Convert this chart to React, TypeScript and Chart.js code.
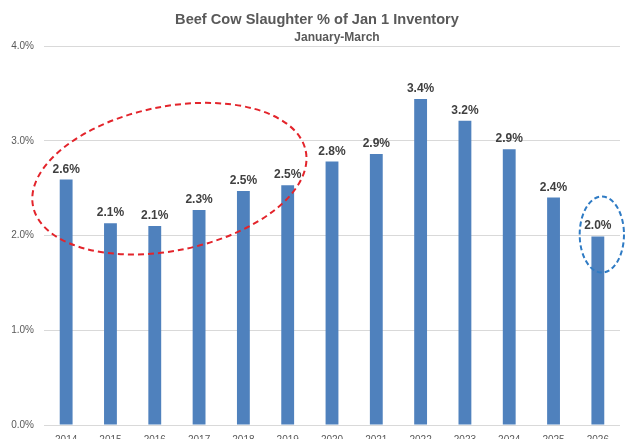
import React, { useEffect, useRef } from "react";
import { Chart, registerables } from "chart.js";

Chart.register(...registerables);

const TITLE = "Beef Cow Slaughter % of Jan 1 Inventory";
const SUBTITLE = "January-March";
const years = ["2014","2015","2016","2017","2018","2019","2020","2021","2022","2023","2024","2025","2026"];
const values = [2.59, 2.13, 2.1, 2.27, 2.47, 2.53, 2.78, 2.86, 3.44, 3.21, 2.91, 2.4, 1.99];
const labelTexts = ["2.6%","2.1%","2.1%","2.3%","2.5%","2.5%","2.8%","2.9%","3.4%","3.2%","2.9%","2.4%","2.0%"];
const yTicks = [0, 1, 2, 3, 4];

const FONT = "'Liberation Sans', Arial, sans-serif";

const overlayPlugin = {
  id: "overlay",
  afterDatasetsDraw(chart: any) {
    const ctx = chart.ctx;
    const xs = chart.scales.x;
    const ys = chart.scales.y;
    const meta = chart.getDatasetMeta(0);
    ctx.save();
    // data labels
    ctx.font = `bold 12px ${FONT}`;
    ctx.fillStyle = "#404040";
    ctx.textAlign = "center";
    ctx.textBaseline = "alphabetic";
    meta.data.forEach((bar: any, i: number) => {
      ctx.fillText(labelTexts[i], bar.x, bar.y - 7);
    });
    // red ellipse
    const catW = xs.getPixelForValue(1) - xs.getPixelForValue(0);
    ctx.lineWidth = 2;
    ctx.setLineDash([6, 4]);
    ctx.strokeStyle = "#e3242b";
    ctx.beginPath();
    ctx.ellipse(xs.getPixelForValue(2.33), ys.getPixelForValue(2.6), catW * 3.14, 72, -0.2, 0, Math.PI * 2);
    ctx.stroke();
    // blue ellipse
    ctx.setLineDash([5, 3]);
    ctx.strokeStyle = "#2f7bc4";
    ctx.beginPath();
    ctx.ellipse(xs.getPixelForValue(12.09), ys.getPixelForValue(2.01), catW * 0.5, 38, 0, 0, Math.PI * 2);
    ctx.stroke();
    ctx.restore();
  },
  afterDraw(chart: any) {
    const ctx = chart.ctx;
    ctx.save();
    ctx.fillStyle = "#595959";
    ctx.textAlign = "center";
    ctx.textBaseline = "alphabetic";
    ctx.font = `bold 14.6px ${FONT}`;
    ctx.fillText(TITLE, 317, 24);
    ctx.font = `bold 12px ${FONT}`;
    ctx.fillText(SUBTITLE, 337, 41);
    ctx.restore();
  },
};

export default function App() {
  const ref = useRef<HTMLCanvasElement>(null);
  useEffect(() => {
    document.body.style.margin = "0";
    const chart = new Chart(ref.current!, {
      type: "bar",
      data: {
        labels: years,
        datasets: [
          {
            data: values,
            backgroundColor: "#4f81bd",
            borderWidth: 0,
            barPercentage: 0.29,
            categoryPercentage: 1,
          },
        ],
      },
      options: {
        animation: false,
        responsive: false,
        maintainAspectRatio: false,
        layout: { padding: { top: 46, right: 7, left: 0, bottom: 0 } },
        plugins: { legend: { display: false }, tooltip: { enabled: false }, title: { display: false } },
        scales: {
          x: {
            grid: { display: false, drawTicks: false },
            border: { display: false },
            ticks: { color: "#595959", font: { family: FONT, size: 10 }, padding: 9, maxRotation: 0 },
            afterFit(scale: any) { scale.height = 14; },
          },
          y: {
            min: 0,
            max: 4,
            afterBuildTicks(scale: any) { scale.ticks = yTicks.map((v) => ({ value: v })); },
            grid: { color: "#d9d9d9", drawTicks: false },
            border: { display: false },
            ticks: {
              color: "#595959",
              font: { family: FONT, size: 10 },
              padding: 10,
              callback: (v: any) => Number(v).toFixed(1) + "%",
            },
            afterFit(scale: any) { scale.width = 44; },
          },
        },
      },
      plugins: [overlayPlugin],
    });
    return () => chart.destroy();
  }, []);
  return (
    <div style={{ position: "absolute", left: 0, top: 0, width: 627, height: 441, background: "#fff" }}>
      <canvas ref={ref} width={627} height={441} style={{ width: 627, height: 441 }} />
    </div>
  );
}
